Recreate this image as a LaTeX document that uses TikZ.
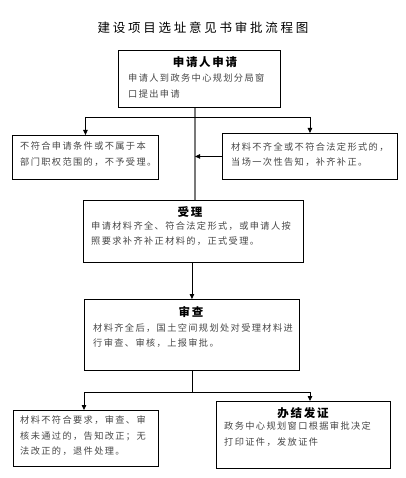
\documentclass[tikz,border=0pt]{standalone}
\usepackage{fontspec}
\usepackage{xcolor}
\usepackage{tikz}
\usetikzlibrary{arrows.meta, positioning, calc}
\newfontfamily\cjk[LetterSpace=15]{Noto Sans CJK SC}
\newfontfamily\cjktitle[LetterSpace=22]{Noto Sans CJK SC}
\definecolor{spinegray}{RGB}{120, 120, 120}
\definecolor{bodygray}{RGB}{70, 70, 70}

\begin{document}
\begin{tikzpicture}[x=1pt, y=-1pt,
    box/.style={draw, line width=0.9pt, anchor=north west, inner sep=0pt},
    head/.style={font=\cjk\bfseries\fontsize{11.5}{14}\selectfont, inner sep=0pt},
    body/.style={font=\cjk\fontsize{9.2}{15.5}\selectfont, text=bodygray, align=left, anchor=north west, inner sep=0pt},
    line/.style={line width=0.8pt},
    arrow/.style={line width=0.8pt, -{Triangle[length=5pt, width=4.5pt]}}]
    \useasboundingbox (0, 0) rectangle (405, 478);

    % 标题
    \node[font=\cjktitle\fontsize{12.5}{15}\selectfont, inner sep=0pt] (title) at (203, 28) {建设项目选址意见书审批流程图};

    % 方框
    \node[box, minimum width=162pt, minimum height=57pt] (apply) at (118, 50) {};
    \node[box, minimum width=146pt, minimum height=44pt] (refuse) at (12, 135) {};
    \node[box, minimum width=175pt, minimum height=46pt] (notice) at (222, 133) {};
    \node[box, minimum width=220pt, minimum height=62pt] (accept) at (83, 200) {};
    \node[box, minimum width=215pt, minimum height=71pt] (review) at (84, 299) {};
    \node[box, minimum width=145pt, minimum height=56pt] (reject) at (13, 410) {};
    \node[box, minimum width=174pt, minimum height=67pt] (issue) at (216, 401) {};

    % 文字
    \node[head] (applyH) at (205, 62) {申请人申请};
    \node[body] (applyT) at (128, 74) {申请人到政务中心规划分局窗\\口提出申请};
    \node[body] (refuseT) at (20, 142) {不符合申请条件或不属于本\\部门职权范围的，不予受理。};
    \node[body] (noticeT) at (231, 142) {材料不齐全或不符合法定形式的，\\当场一次性告知，补齐补正。};
    \node[head] (acceptH) at (190, 212) {受理};
    \node[body] (acceptT) at (91, 221) {申请材料齐全、符合法定形式，或申请人按\\照要求补齐补正材料的，正式受理。};
    \node[head] (reviewH) at (191, 312) {审查};
    \node[body] (reviewT) at (93, 323) {材料齐全后，国土空间规划处对受理材料进\\行审查、审核，上报审批。};
    \node[body] (rejectT) at (20, 416) {材料不符合要求，审查、审\\核未通过的，告知改正；无\\法改正的，退件处理。};
    \node[head] (issueH) at (303, 413) {办结发证};
    \node[body] (issueT) at (224, 422) {政务中心规划窗口根据审批决定\\打印证件，发放证件};

    % 连线
    \coordinate (spine) at (195, 117);
    \draw[line width=1.6pt, spinegray] (apply.south -| spine) -- (accept.north -| spine);
    \draw[line] (refuse.north |- spine) -- (notice.north |- spine);
    \draw[arrow] (refuse.north |- spine) -- (refuse.north);
    \draw[arrow] (notice.north |- spine) -- (notice.north);
    \draw[arrow] (notice.west) -- (notice.west -| spine);
    \draw[arrow] (accept.south -| review.north) -- (review.north);

    \coordinate (forkL) at (84, 392);
    \coordinate (forkR) at (310, 392);
    \draw[line] (review.south) -- (review.south |- forkL);
    \draw[line] (forkL) -- (forkR);
    \draw[arrow] (forkL) -- (forkL |- reject.north);
    \draw[arrow] (forkR) -- (forkR |- issue.north);
\end{tikzpicture}
\end{document}
